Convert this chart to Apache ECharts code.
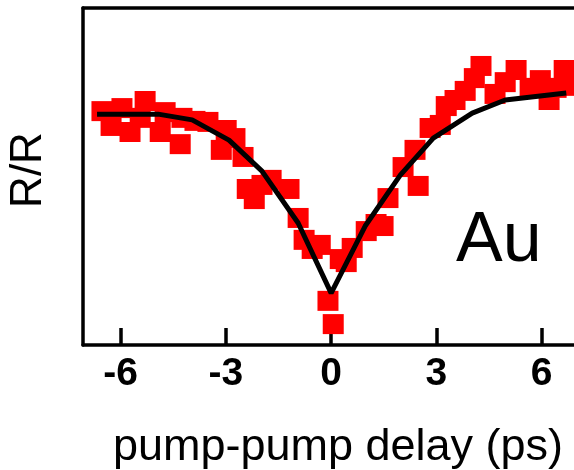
<!DOCTYPE html>
<html>
<head>
<meta charset="utf-8">
<script src="https://cdn.jsdelivr.net/npm/echarts@6/dist/echarts.min.js"></script>
<style>
  html, body { margin: 0; padding: 0; background: #ffffff; }
  #chart { width: 574px; height: 470px; }
</style>
</head>
<body>
<div id="chart"></div>
<script>
// Measured reflectivity change vs. pump-pump delay (ps), gold sample
const delays = [
  -6.53, -6.27, -5.96, -5.73, -5.44, -5.30, -4.87, -4.73, -4.30, -4.25,
  -3.88, -3.51, -3.13, -2.99, -2.74, -2.51, -2.39, -2.19, -1.97, -1.71,
  -1.20, -0.94, -0.77, -0.54, -0.31, -0.09, 0.06, 0.26, 0.43, 0.60,
  1.00, 1.28, 1.48, 1.62, 2.05, 2.39, 2.48, 2.82, 3.11, 3.28,
  3.53, 3.82, 4.08, 4.27, 4.67, 4.96, 5.27, 5.67, 5.96, 6.21,
  6.41, 6.64, 6.81
];
const signal = [
  6.94, 6.50, 7.03, 6.32, 6.74, 7.24, 6.32, 6.91, 5.96, 6.74,
  6.65, 6.62, 5.79, 6.38, 6.14, 5.58, 4.63, 4.33, 4.75, 4.90,
  4.63, 3.77, 3.12, 2.85, 2.97, 1.31, 0.62, 2.55, 2.46, 2.88,
  3.38, 3.59, 3.53, 4.36, 5.28, 5.79, 4.72, 6.44, 6.53, 7.09,
  7.27, 7.54, 7.92, 8.28, 7.45, 7.80, 8.16, 7.63, 7.86, 7.27,
  7.63, 8.16, 7.69
];

// Model fit
const fitDelays = [-6.67, -4.93, -3.96, -2.91, -1.97, -0.94, 0.00, 0.97, 1.97, 2.91, 4.02, 4.96, 6.70];
const fitSignal = [6.85, 6.85, 6.68, 6.08, 5.16, 3.62, 1.54, 3.53, 5.04, 6.14, 6.88, 7.27, 7.48];

const xTicks = [-6, -3, 0, 3, 6];

const FONT = "'Liberation Sans', Arial, sans-serif";

const chart = echarts.init(document.getElementById('chart'), null, { renderer: 'canvas' });

chart.setOption({
  animation: false,
  backgroundColor: '#ffffff',
  grid: { left: 83, top: 8, right: 0, bottom: 125 },
  xAxis: [
    {
      type: 'value',
      position: 'bottom',
      min: -7.07,
      max: 6.92,
      axisLine: { show: true, onZero: false, lineStyle: { color: '#000', width: 3.5 } },
      axisTick: {
        show: true, inside: true, length: 17, customValues: xTicks,
        lineStyle: { color: '#000', width: 3.5 }
      },
      axisLabel: {
        show: true, customValues: xTicks, margin: 10,
        color: '#000', fontFamily: FONT, fontWeight: 'bold', fontSize: 39
      },
      splitLine: { show: false }
    },
    {
      type: 'value',
      position: 'top',
      min: -7.07,
      max: 6.92,
      axisLine: { show: true, onZero: false, lineStyle: { color: '#000', width: 3.5 } },
      axisTick: { show: false },
      axisLabel: { show: false },
      splitLine: { show: false }
    }
  ],
  yAxis: {
    type: 'value',
    min: 0,
    max: 10,
    axisLine: { show: true, onZero: false, lineStyle: { color: '#000', width: 3.5 } },
    axisTick: { show: false },
    axisLabel: { show: false },
    splitLine: { show: false }
  },
  series: [
    {
      type: 'scatter',
      xAxisIndex: 0,
      symbol: 'rect',
      symbolSize: [21, 20],
      clip: false,
      itemStyle: { color: '#ff0000', opacity: 1 },
      data: delays.map((d, i) => [d, signal[i]]),
      z: 2
    },
    {
      type: 'line',
      xAxisIndex: 0,
      showSymbol: false,
      symbol: 'none',
      lineStyle: { color: '#000', width: 5 },
      data: fitDelays.map((d, i) => [d, fitSignal[i]]),
      z: 3
    }
  ],
  graphic: [
    {
      type: 'text',
      style: {
        text: 'Au', x: 456, y: 242, textVerticalAlign: 'middle',
        font: 'normal 70px ' + FONT, fill: '#000'
      }
    },
    {
      type: 'text',
      style: {
        text: 'pump-pump delay (ps)', x: 338, y: 448, textAlign: 'center',
        textVerticalAlign: 'middle', font: 'normal 45px ' + FONT, fill: '#000'
      }
    },
    {
      type: 'text',
      rotation: Math.PI / 2,
      x: 29, y: 170,
      style: {
        text: 'R/R', x: 0, y: 0, textAlign: 'center', textVerticalAlign: 'middle',
        font: 'normal 44px ' + FONT, fill: '#000'
      }
    }
  ]
});
</script>
</body>
</html>
